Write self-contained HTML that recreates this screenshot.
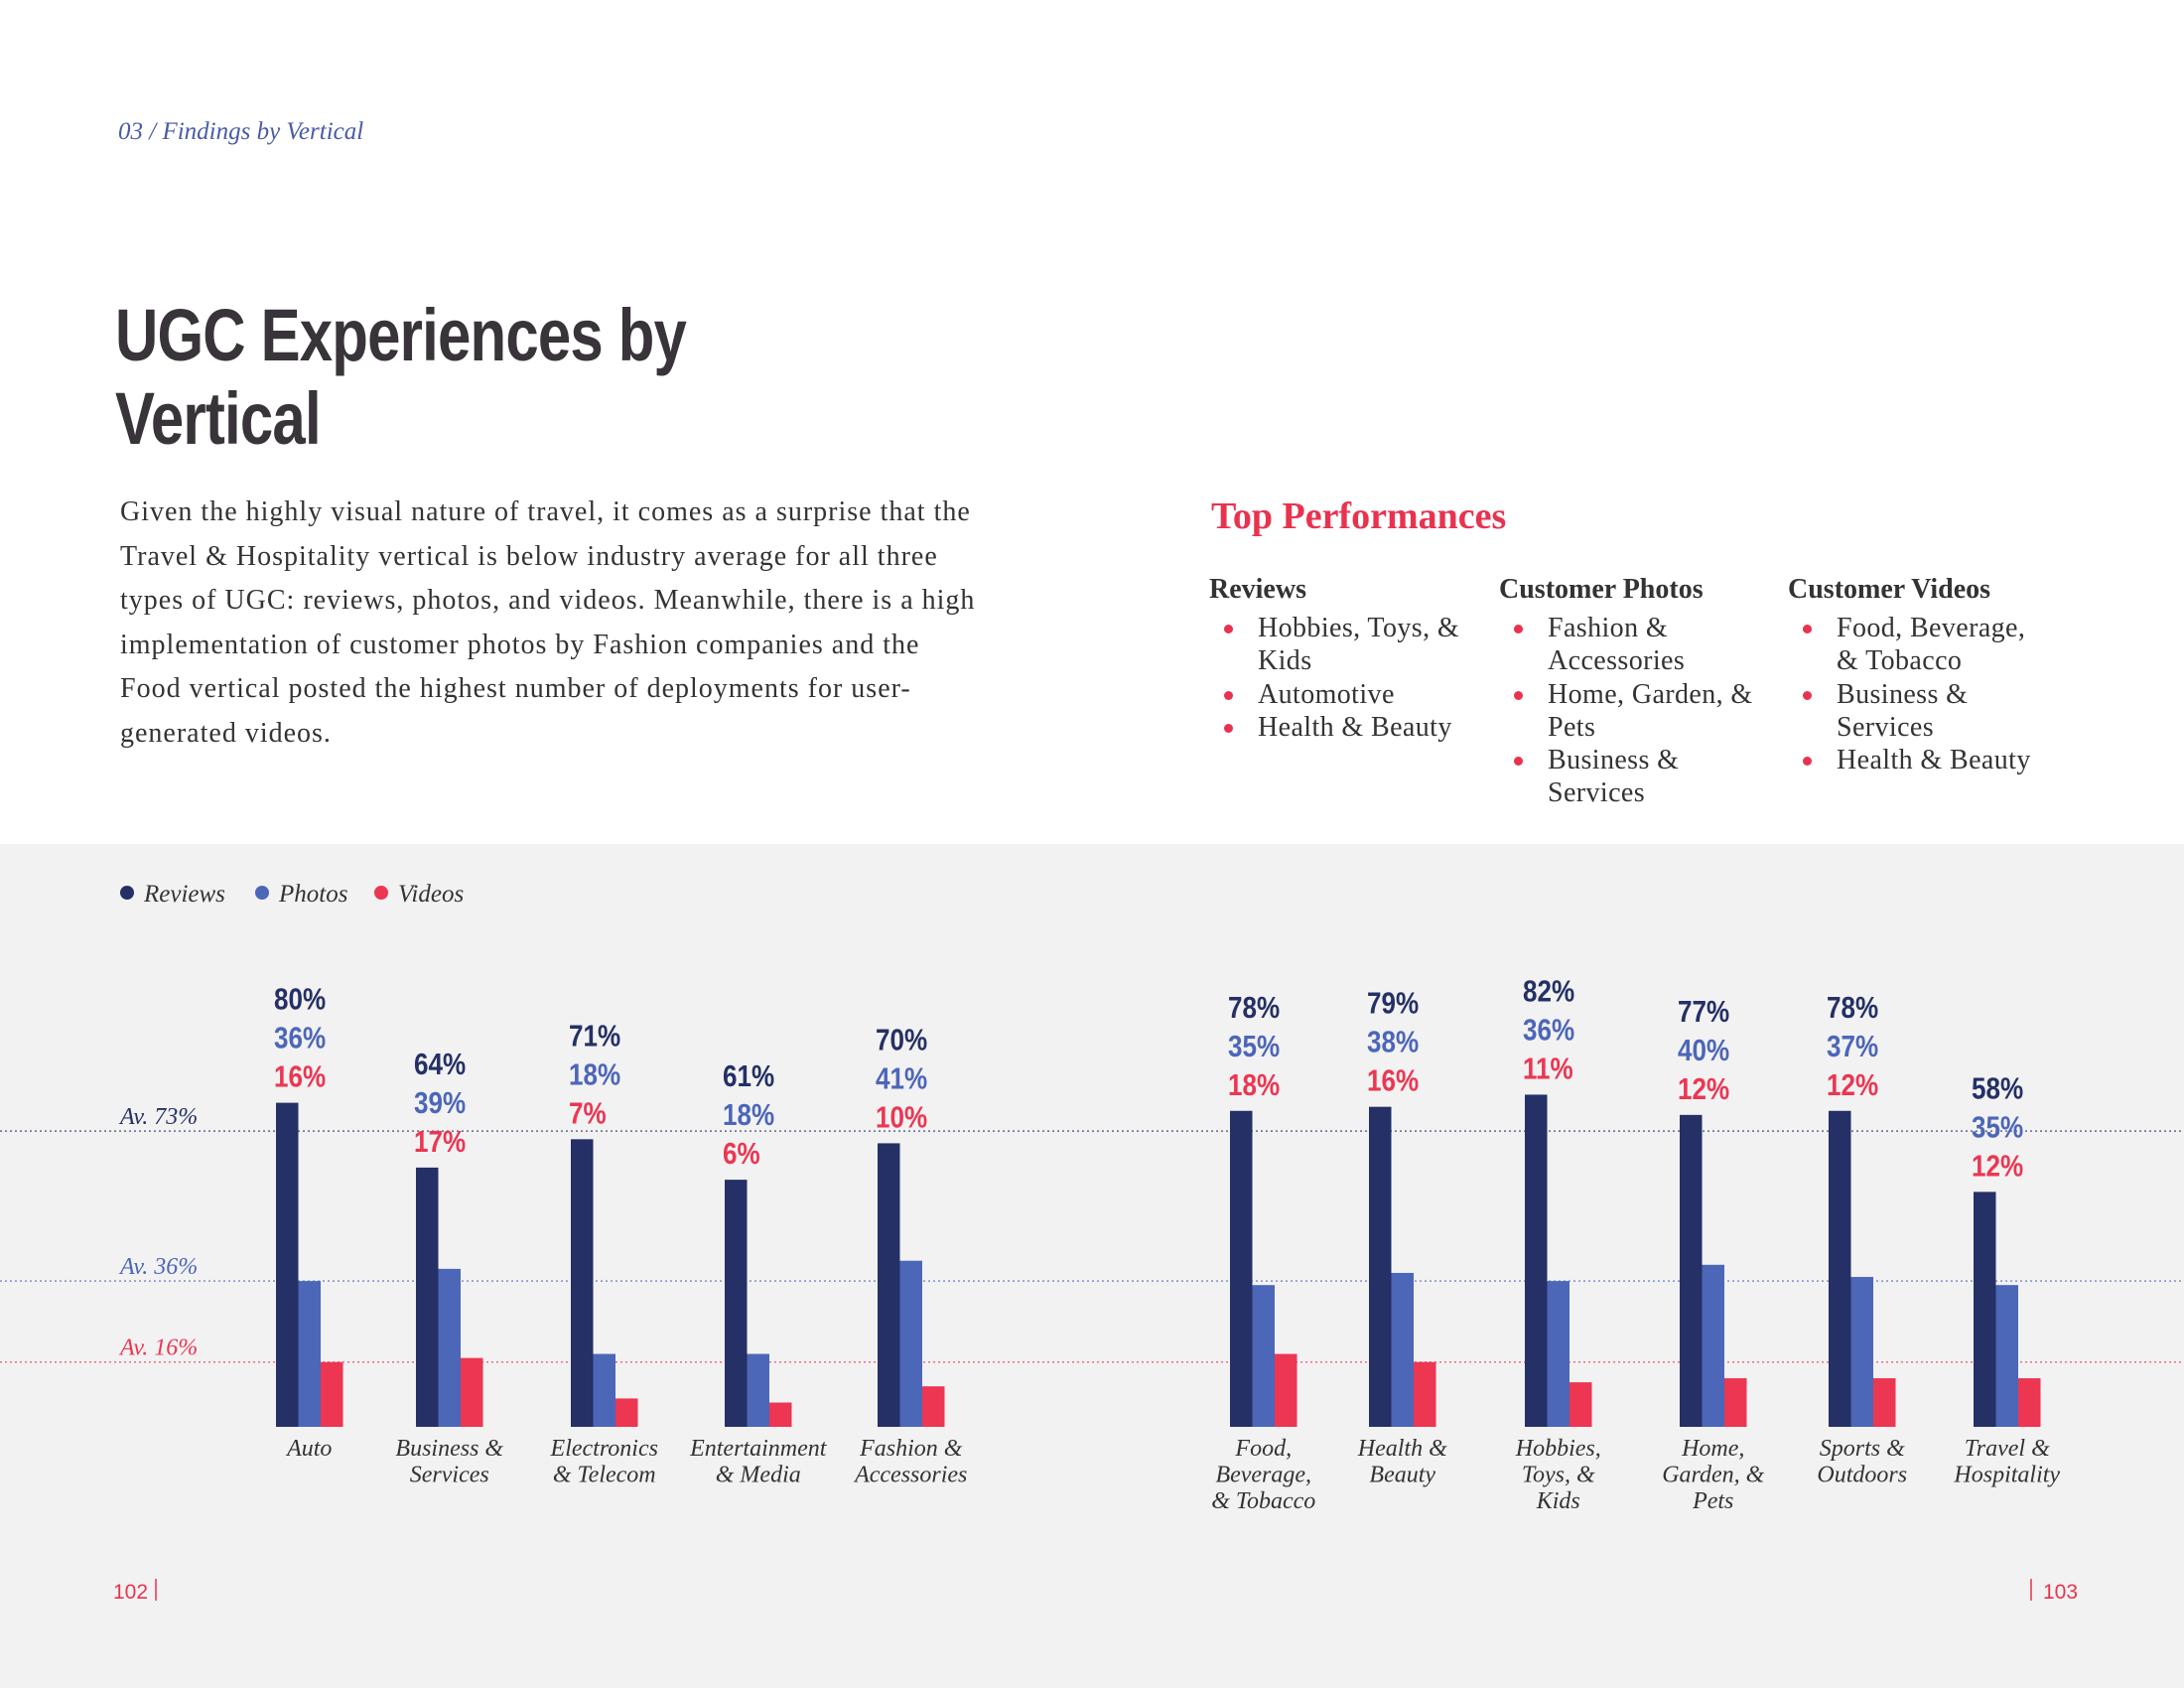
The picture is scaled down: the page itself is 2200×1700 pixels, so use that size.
<!DOCTYPE html>
<html><head><meta charset="utf-8">
<style>
body{margin:0;width:2200px;height:1700px;position:relative;background:#fff;overflow:hidden;font-family:"Liberation Serif",serif;color:#333;}
.abs{position:absolute;}
#hdr{left:119px;top:119px;font-style:italic;font-size:25px;color:#4a5aa8;}
#title{left:116px;top:296px;font-family:"Liberation Sans",sans-serif;font-weight:bold;font-size:74px;line-height:84px;color:#38343a;letter-spacing:-1px;transform:scaleX(0.81);transform-origin:0 0;white-space:nowrap;}
#para{left:121px;top:494px;width:1000px;font-size:28px;letter-spacing:1.0px;line-height:44.5px;color:#333;white-space:nowrap;}
#tp{left:1220px;top:498px;font-size:38px;font-weight:bold;color:#e8334f;}
.col{top:578px;width:290px;}
.col h3{margin:0 0 6px 0;font-size:28px;font-weight:bold;color:#333;}
.col ul{margin:0;padding:0;list-style:none;}
.col li{position:relative;padding-left:49px;font-size:28px;letter-spacing:0.4px;line-height:33.3px;color:#333;white-space:nowrap;}
.col li:before{content:"";position:absolute;left:15px;top:13px;width:9px;height:9px;border-radius:50%;background:#e8334f;}
#gray{left:0;top:850px;width:2200px;height:850px;background:#f2f2f2;}
</style></head><body>
<div class="abs" id="hdr">03 / Findings by Vertical</div>
<div class="abs" id="title">UGC Experiences by<br>Vertical</div>
<div class="abs" id="para">Given the highly visual nature of travel, it comes as a surprise that the<br>Travel &amp; Hospitality vertical is below industry average for all three<br>types of UGC: reviews, photos, and videos. Meanwhile, there is a high<br>implementation of customer photos by Fashion companies and the<br>Food vertical posted the highest number of deployments for user-<br>generated videos.</div>
<div class="abs" id="tp">Top Performances</div>
<div class="abs col" style="left:1218px"><h3>Reviews</h3><ul><li>Hobbies, Toys, &amp;<br>Kids</li><li>Automotive</li><li>Health &amp; Beauty</li></ul></div>
<div class="abs col" style="left:1510px"><h3>Customer Photos</h3><ul><li>Fashion &amp;<br>Accessories</li><li>Home, Garden, &amp;<br>Pets</li><li>Business &amp;<br>Services</li></ul></div>
<div class="abs col" style="left:1801px"><h3>Customer Videos</h3><ul><li>Food, Beverage,<br>&amp; Tobacco</li><li>Business &amp;<br>Services</li><li>Health &amp; Beauty</li></ul></div>
<div class="abs" id="gray"></div>
<svg class="abs" style="left:0;top:0" width="2200" height="1700" id="chart"></svg>
<script>
const categories=[["Auto"],["Business &","Services"],["Electronics","& Telecom"],["Entertainment","& Media"],["Fashion &","Accessories"],["Food,","Beverage,","& Tobacco"],["Health &","Beauty"],["Hobbies,","Toys, &","Kids"],["Home,","Garden, &","Pets"],["Sports &","Outdoors"],["Travel &","Hospitality"]];
const reviews=[80,64,71,61,70,78,79,82,77,78,58];
const photos=[36,39,18,18,41,35,38,36,40,37,35];
const videos=[16,17,7,6,10,18,16,11,12,12,12];
const averages=[73,36,16];
const avgLabels=["Av. 73%","Av. 36%","Av. 16%"];
const seriesNames=["Reviews","Photos","Videos"];

const svg=document.getElementById('chart');
const NS='http://www.w3.org/2000/svg';
const colors=['#243066','#4c66b8','#ec3652'];
const base=1437, k=4.08, bw=22.5;
const groupX=[278,419,575,730,884,1239,1379,1536,1692,1842,1988];
function y(v){return base-v*k;}
function mk(tag,attrs,txt){const e=document.createElementNS(NS,tag);for(const a in attrs)e.setAttribute(a,attrs[a]);if(txt!==undefined)e.textContent=txt;svg.appendChild(e);return e;}
const legX=[128,264,384];
seriesNames.forEach((n,i)=>{
  const c=mk('circle',{cx:legX[i],cy:899,r:7,fill:colors[i]});
  
  
  const t=mk('text',{x:legX[i]+17,y:908,'font-family':'Liberation Serif, serif','font-style':'italic','font-size':25,fill:'#333'},n);
  
  
});
averages.forEach((a,i)=>{
  const l=mk('line',{x1:0,x2:2200,y1:y(a),y2:y(a),stroke:colors[i],'stroke-width':1.5,'stroke-dasharray':'2 3',opacity:0.7});
  
  
  const t=mk('text',{x:121,y:y(a)-7,'font-family':'Liberation Serif, serif','font-style':'italic','font-size':24,fill:colors[i]},avgLabels[i]);
  
  
});
const series=[reviews,photos,videos];
categories.forEach((cat,g)=>{
  const x0=groupX[g];
  series.forEach((s,i)=>{
    const r=mk('rect',{x:x0+i*bw,y:y(s[g]),width:bw,height:s[g]*k,fill:colors[i]});
    
    
  });
  const top=y(reviews[g]);
  series.forEach((s,i)=>{
    const ty=top-16-(2-i)*39;
    const t=mk('text',{x:0,y:0,transform:'translate('+(x0-2)+','+ty+') scale(0.84,1)','font-family':'Liberation Sans, sans-serif','font-weight':'bold','font-size':31,fill:colors[i]},s[g]+'%');
    
    
  });
  cat.forEach((line,j)=>{
    const t=mk('text',{x:x0+bw*1.5,y:1466+j*26.5,'text-anchor':'middle','font-family':'Liberation Serif, serif','font-style':'italic','font-size':24,fill:'#333'},line);
    
    
  });
});
const p1=mk('text',{x:114,y:1610,'font-family':'Liberation Sans, sans-serif','font-size':21,fill:'#e8334f'},'102');


const s1=mk('line',{x1:157,x2:157,y1:1590,y2:1612,stroke:'#e8334f','stroke-width':1.5});


const s2=mk('line',{x1:2046,x2:2046,y1:1590,y2:1612,stroke:'#e8334f','stroke-width':1.5});


const p2=mk('text',{x:2058,y:1610,'font-family':'Liberation Sans, sans-serif','font-size':21,fill:'#e8334f'},'103');


</script>
</body></html>
